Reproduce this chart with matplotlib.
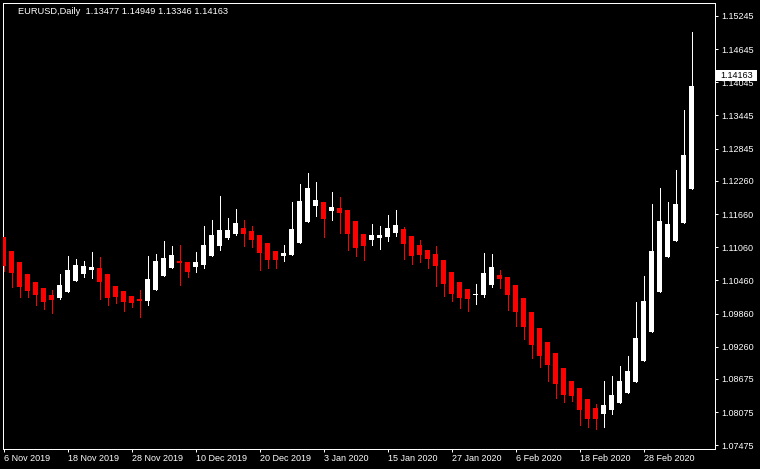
import matplotlib
matplotlib.use('Agg')
import matplotlib.pyplot as plt
from matplotlib.patches import Rectangle
from matplotlib.transforms import blended_transform_factory
import numpy as np

plt.rcParams['font.family'] = ['Liberation Sans', 'DejaVu Sans']

# ---- data (daily EURUSD candles, 6 Nov 2019 .. 9 Mar 2020) ----
opens = [1.11245, 1.10992, 1.10793, 1.10576, 1.10431, 1.10322, 1.10195, 1.10141, 1.10250, 1.10449,
         1.10576, 1.10648, 1.10684, 1.10576, 1.10358, 1.10268, 1.10177, 1.10123, 1.10087, 1.10286,
         1.10539, 1.10684, 1.10811, 1.10793, 1.10702, 1.10738, 1.10901, 1.11082, 1.11227, 1.11300,
         1.11408, 1.11354, 1.11281, 1.11137, 1.10992, 1.10901, 1.10919, 1.11137, 1.11517, 1.11806,
         1.11879, 1.11716, 1.11770, 1.11734, 1.11535, 1.11300, 1.11191, 1.11227, 1.11245, 1.11318,
         1.11390, 1.11263, 1.11100, 1.11010, 1.10938, 1.10829, 1.10612, 1.10431, 1.10304, 1.10195,
         1.10195, 1.10376, 1.10557, 1.10521, 1.10376, 1.10141, 1.09888, 1.09598, 1.09345, 1.09146,
         1.08874, 1.08639, 1.08512, 1.08313, 1.08150, 1.08042, 1.08114, 1.08241, 1.08422, 1.08621,
         1.09001, 1.09526, 1.10250, 1.10883, 1.11173, 1.11499, 1.12114]
highs = [1.11245, 1.10992, 1.10793, 1.10576, 1.10431, 1.10322, 1.10286, 1.10576, 1.10901, 1.10847,
         1.10811, 1.10974, 1.10883, 1.10576, 1.10358, 1.10268, 1.10177, 1.10286, 1.10901, 1.10938,
         1.11173, 1.11082, 1.11100, 1.10793, 1.10974, 1.11444, 1.11553, 1.11987, 1.11589, 1.11752,
         1.11553, 1.11444, 1.11281, 1.11137, 1.10992, 1.11100, 1.11879, 1.12205, 1.12404, 1.12241,
         1.11879, 1.12060, 1.11969, 1.11734, 1.11535, 1.11300, 1.11481, 1.11444, 1.11643, 1.11734,
         1.11426, 1.11263, 1.11191, 1.11010, 1.11082, 1.10829, 1.10612, 1.10431, 1.10304, 1.10395,
         1.10956, 1.10938, 1.10648, 1.10521, 1.10376, 1.10141, 1.09888, 1.09598, 1.09345, 1.09146,
         1.08874, 1.08639, 1.08512, 1.08313, 1.08223, 1.08639, 1.08729, 1.08910, 1.09091, 1.10069,
         1.10539, 1.11843, 1.12132, 1.11879, 1.12458, 1.13544, 1.14956]
lows = [1.10630, 1.10340, 1.10159, 1.10159, 1.10015, 1.09942, 1.09870, 1.10123, 1.10250, 1.10449,
        1.10521, 1.10503, 1.10123, 1.10015, 1.10051, 1.09906, 1.09978, 1.09797, 1.10015, 1.10286,
        1.10539, 1.10684, 1.10376, 1.10521, 1.10612, 1.10684, 1.10901, 1.11010, 1.11209, 1.11281,
        1.11082, 1.11064, 1.10648, 1.10684, 1.10684, 1.10811, 1.10919, 1.11137, 1.11517, 1.11625,
        1.11245, 1.11553, 1.11318, 1.11010, 1.10901, 1.10829, 1.11100, 1.11028, 1.11173, 1.11263,
        1.10847, 1.10757, 1.10793, 1.10684, 1.10358, 1.10177, 1.10087, 1.09960, 1.09906, 1.10033,
        1.10159, 1.10340, 1.10322, 1.09924, 1.09634, 1.09399, 1.09055, 1.08892, 1.08639, 1.08331,
        1.08259, 1.08277, 1.07842, 1.07806, 1.07770, 1.07806, 1.08042, 1.08241, 1.08422, 1.08621,
        1.09001, 1.09526, 1.10250, 1.10883, 1.11173, 1.11499, 1.12114]
closes = [1.10720, 1.10594, 1.10340, 1.10268, 1.10195, 1.10069, 1.10105, 1.10376, 1.10648, 1.10738,
          1.10720, 1.10702, 1.10431, 1.10141, 1.10159, 1.10069, 1.10051, 1.10087, 1.10485, 1.10811,
          1.10865, 1.10919, 1.10775, 1.10612, 1.10793, 1.11100, 1.11281, 1.11372, 1.11372, 1.11499,
          1.11300, 1.11191, 1.10956, 1.10829, 1.10829, 1.10956, 1.11390, 1.11897, 1.12132, 1.11915,
          1.11571, 1.11788, 1.11680, 1.11300, 1.11046, 1.11082, 1.11281, 1.11281, 1.11408, 1.11462,
          1.11119, 1.10901, 1.10919, 1.10847, 1.10720, 1.10395, 1.10214, 1.10141, 1.10123, 1.10214,
          1.10594, 1.10702, 1.10485, 1.10195, 1.09888, 1.09616, 1.09290, 1.09091, 1.08928, 1.08585,
          1.08385, 1.08367, 1.08114, 1.07951, 1.07951, 1.08204, 1.08385, 1.08639, 1.08820, 1.09417,
          1.10087, 1.10992, 1.11535, 1.11481, 1.11843, 1.12729, 1.13978]

header_text = "EURUSD,Daily  1.13477 1.14949 1.13346 1.14163"
bid_price = 1.14163
ytick_values = [1.15245, 1.14645, 1.14045, 1.13445, 1.12845, 1.12260, 1.11660,
                1.11060, 1.10460, 1.09860, 1.09260, 1.08675, 1.08075, 1.07475]
xtick_labels = ["6 Nov 2019", "18 Nov 2019", "28 Nov 2019", "10 Dec 2019", "20 Dec 2019",
                "3 Jan 2020", "15 Jan 2020", "27 Jan 2020", "6 Feb 2020", "18 Feb 2020",
                "28 Feb 2020"]
xtick_every = 8

# ---- figure / layout ----
W, H = 760, 469
fig = plt.figure(figsize=(W / 100, H / 100), dpi=100, facecolor='black')
L, R, T, B = 2.5, 714.5, 3.5, 448.5
ax = fig.add_axes([L / W, 1 - B / H, (R - L) / W, (B - T) / H])
ax.set_facecolor('black')

o = np.array(opens); h = np.array(highs); l = np.array(lows); c = np.array(closes)
n = len(o)
xs = np.arange(n)
bull = c >= o
cols = np.where(bull, '#ffffff', '#ff0000')

ax.vlines(xs, l, h, colors=cols, linewidth=0.72, antialiased=False, zorder=2)
body_bot = np.minimum(o, c)
body_h = np.maximum(np.abs(c - o), 0.00018)
ax.bar(xs, body_h, bottom=body_bot, width=0.625, color=cols, linewidth=0,
       antialiased=False, zorder=3)

ax.set_xlim(-0.125, 88.875)
y_top, y_bot = 1.15471, 1.07417
ax.set_ylim(y_bot, y_top)

for s in ax.spines.values():
    s.set_color('white')
    s.set_linewidth(0.72)

ax.yaxis.tick_right()
ax.set_yticks(ytick_values)
ax.set_yticklabels([f"{v:.5f}" for v in ytick_values])
ax.tick_params(axis='y', colors='white', length=2.2, width=0.72, pad=2.5, labelsize=6.5)

ax.set_xticks(np.arange(len(xtick_labels)) * xtick_every)
ax.set_xticklabels(xtick_labels, ha='left')
ax.tick_params(axis='x', colors='white', length=2.2, width=0.72, pad=1.5, labelsize=6.5)

fig.text(18 / W, 1 - 11 / H, header_text, color='white', fontsize=6.7, va='center', ha='left')

# bid price label box
px_price = (y_top - y_bot) / (B - T)
blend = blended_transform_factory(fig.transFigure, ax.transData)
fig.add_artist(Rectangle((716 / W, bid_price - 5.5 * px_price), 41 / W, 11 * px_price,
                         transform=blend, facecolor='white', edgecolor='none', zorder=5))
fig.text(720 / W, bid_price, f"{bid_price:.5f}", transform=blend, color='black',
         fontsize=6.5, va='center', ha='left', zorder=6)

fig.savefig('out.png', dpi=100, facecolor='black')
